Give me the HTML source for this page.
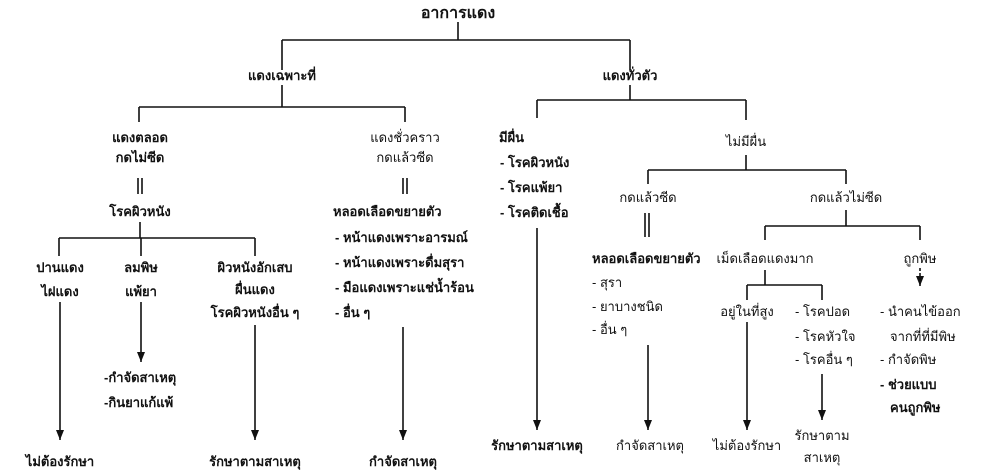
<!DOCTYPE html>
<html><head><meta charset="utf-8"><style>
body{margin:0;background:#fff;}
#c{position:relative;width:1000px;height:476px;overflow:hidden;background:#fff;font-family:"Liberation Sans","DejaVu Sans",sans-serif;font-size:13px;color:#111;}
.t{position:absolute;white-space:nowrap;line-height:16px;transform:translateY(-8px);}
.m{transform:translate(-50%,-8px);}
.b{font-weight:bold;}
svg{position:absolute;left:0;top:0;}
</style></head><body><div id="c">
<svg width="1000" height="476" stroke="#111" stroke-width="1.6" fill="none">
<defs>
<marker id="d" markerWidth="8" markerHeight="10" refX="4" refY="10" orient="0" markerUnits="userSpaceOnUse"><path d="M0,0 L8,0 L4,10 Z" fill="#111" stroke="none"/></marker></defs>
<path d="M458 22V40M282 40H630M282 40V70M630 40V70"/>
<path d="M282 85V107M139 107H405M139 107V122M405 107V122"/>
<path d="M138 178V194M142 178V194M403 178V194M407 178V194"/>
<path d="M140 222V238M59 238H255M59 238V256M141 238V256M255 238V256"/>
<path d="M60 302V440" marker-end="url(#d)"/>
<path d="M141 302V362" marker-end="url(#d)"/>
<path d="M255 325V440" marker-end="url(#d)"/>
<path d="M403 327V440" marker-end="url(#d)"/>
<path d="M630 85V100M537 100H746M537 100V118M746 100V120"/>
<path d="M537 228V430" marker-end="url(#d)"/>
<path d="M746 155V170M648 170H846M648 170V184M846 170V184"/>
<path d="M645 213V237M649 213V237"/>
<path d="M846 210V226M765 226H920M765 226V240M920 226V240"/>
<path d="M648 345V430" marker-end="url(#d)"/>
<path d="M747 322V430" marker-end="url(#d)"/>
<path d="M822 374V420" marker-end="url(#d)"/>
<path d="M765 270V285M747 285H822M747 285V300M822 285V300"/>
<path d="M920 268V286" stroke-dasharray="3 2" marker-end="url(#d)"/>
</svg>
<div class="t m b" style="left:458px;top:14px;font-size:16px">อาการแดง</div>
<div class="t m b" style="left:282px;top:76px">แดงเฉพาะที่</div>
<div class="t m b" style="left:630px;top:76px">แดงทั่วตัว</div>
<div class="t m b" style="left:140px;top:138px">แดงตลอด</div>
<div class="t m b" style="left:140px;top:158px">กดไม่ซีด</div>
<div class="t m b" style="left:140px;top:212px">โรคผิวหนัง</div>
<div class="t m" style="left:405px;top:138px">แดงชั่วคราว</div>
<div class="t m" style="left:405px;top:158px">กดแล้วซีด</div>
<div class="t b" style="left:333px;top:212px">หลอดเลือดขยายตัว</div>
<div class="t b" style="left:335px;top:238px">- หน้าแดงเพราะอารมณ์</div>
<div class="t b" style="left:335px;top:263px">- หน้าแดงเพราะดื่มสุรา</div>
<div class="t b" style="left:335px;top:288px">- มือแดงเพราะแช่น้ำร้อน</div>
<div class="t b" style="left:335px;top:313px">- อื่น ๆ</div>
<div class="t m b" style="left:60px;top:268px">ปานแดง</div>
<div class="t m b" style="left:60px;top:292px">ไฝแดง</div>
<div class="t m b" style="left:141px;top:268px">ลมพิษ</div>
<div class="t m b" style="left:141px;top:292px">แพ้ยา</div>
<div class="t m b" style="left:255px;top:268px">ผิวหนังอักเสบ</div>
<div class="t m b" style="left:255px;top:290px">ผื่นแดง</div>
<div class="t m b" style="left:255px;top:313px">โรคผิวหนังอื่น ๆ</div>
<div class="t b" style="left:104px;top:378px">-กำจัดสาเหตุ</div>
<div class="t b" style="left:104px;top:403px">-กินยาแก้แพ้</div>
<div class="t m b" style="left:60px;top:462px">ไม่ต้องรักษา</div>
<div class="t m b" style="left:255px;top:462px">รักษาตามสาเหตุ</div>
<div class="t m b" style="left:403px;top:462px">กำจัดสาเหตุ</div>
<div class="t b" style="left:499px;top:138px">มีผื่น</div>
<div class="t b" style="left:500px;top:163px">- โรคผิวหนัง</div>
<div class="t b" style="left:500px;top:188px">- โรคแพ้ยา</div>
<div class="t b" style="left:500px;top:213px">- โรคติดเชื้อ</div>
<div class="t m b" style="left:537px;top:446px">รักษาตามสาเหตุ</div>
<div class="t m" style="left:746px;top:142px">ไม่มีผื่น</div>
<div class="t m" style="left:648px;top:198px">กดแล้วซีด</div>
<div class="t m" style="left:846px;top:198px">กดแล้วไม่ซีด</div>
<div class="t b" style="left:592px;top:259px">หลอดเลือดขยายตัว</div>
<div class="t m" style="left:765px;top:259px">เม็ดเลือดแดงมาก</div>
<div class="t m" style="left:920px;top:259px">ถูกพิษ</div>
<div class="t" style="left:592px;top:283px">- สุรา</div>
<div class="t" style="left:592px;top:307px">- ยาบางชนิด</div>
<div class="t" style="left:592px;top:330px">- อื่น ๆ</div>
<div class="t m" style="left:650px;top:446px">กำจัดสาเหตุ</div>
<div class="t m" style="left:747px;top:312px">อยู่ในที่สูง</div>
<div class="t" style="left:795px;top:312px">- โรคปอด</div>
<div class="t" style="left:795px;top:337px">- โรคหัวใจ</div>
<div class="t" style="left:795px;top:360px">- โรคอื่น ๆ</div>
<div class="t m" style="left:747px;top:446px">ไม่ต้องรักษา</div>
<div class="t m" style="left:822px;top:436px">รักษาตาม</div>
<div class="t m" style="left:822px;top:458px">สาเหตุ</div>
<div class="t" style="left:880px;top:312px">- นำคนไข้ออก</div>
<div class="t" style="left:890px;top:337px">จากที่ที่มีพิษ</div>
<div class="t" style="left:880px;top:360px">- กำจัดพิษ</div>
<div class="t b" style="left:880px;top:385px">- ช่วยแบบ</div>
<div class="t b" style="left:890px;top:408px">คนถูกพิษ</div>
</div></body></html>
